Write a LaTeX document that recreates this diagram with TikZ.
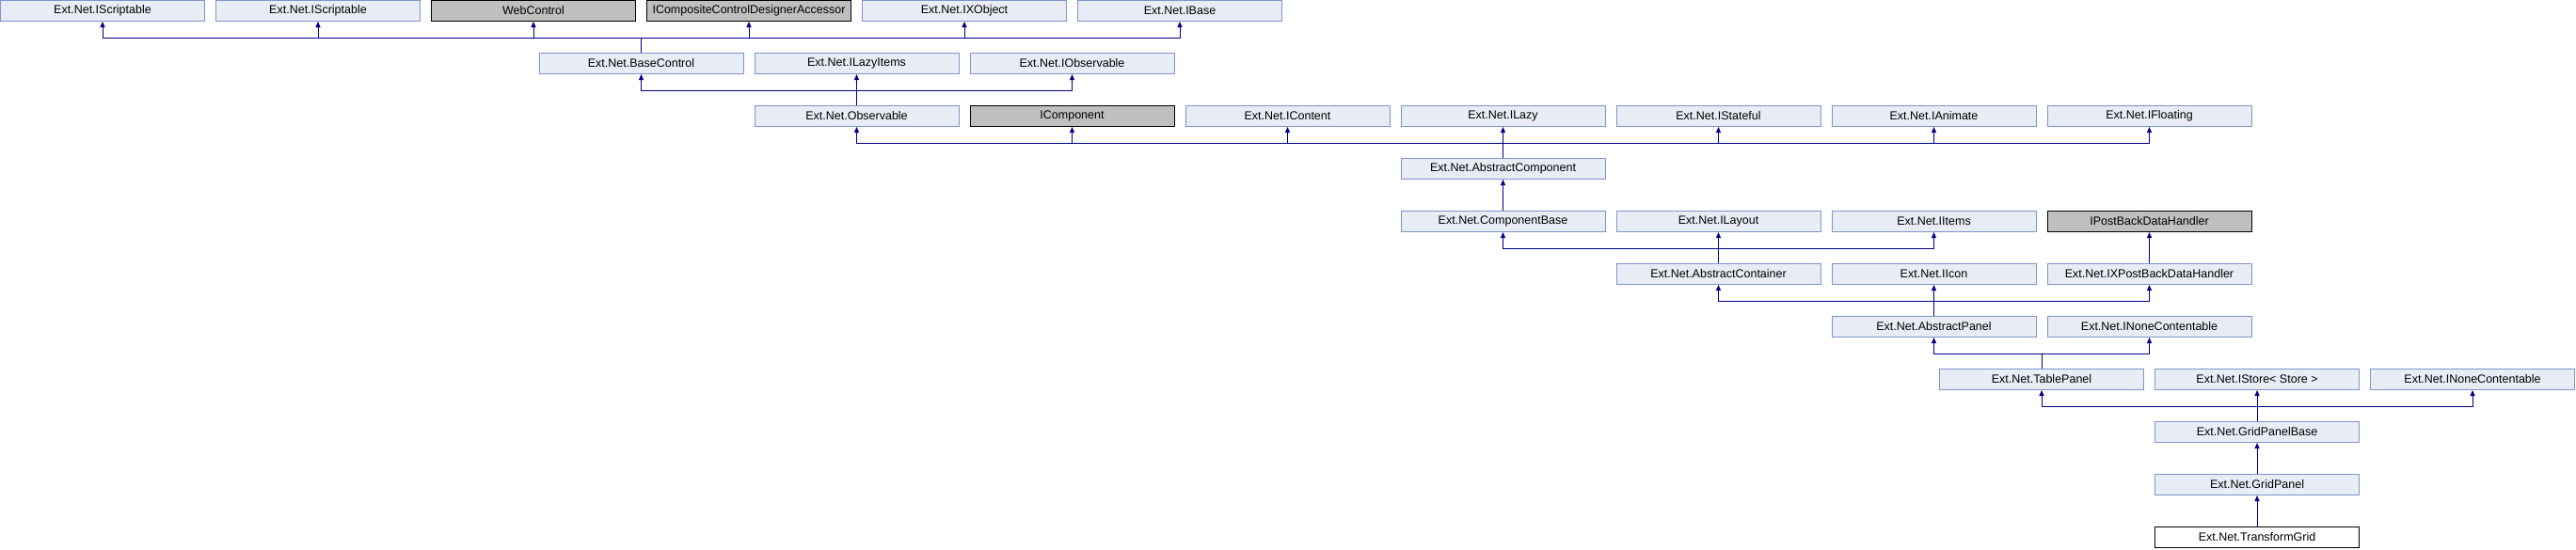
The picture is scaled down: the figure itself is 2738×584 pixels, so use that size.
\documentclass[tikz,border=0pt]{standalone}
\usepackage{fontspec}
\setmainfont{Liberation Sans}
\usetikzlibrary{arrows.meta}
\definecolor{boxfill}{HTML}{E8ECF4}
\definecolor{boxline}{HTML}{7F94CC}
\definecolor{grayfill}{HTML}{BFBFBF}
\definecolor{conncol}{HTML}{000088}
\tikzset{
  cls/.style={draw=boxline, fill=boxfill, line width=1pt, minimum width=217pt, minimum height=22pt, inner sep=0pt, font=\fontsize{12.5}{14}\selectfont},
  ext/.style={cls, draw=black, fill=grayfill},
  cur/.style={cls, draw=black, fill=white},
  conn/.style={draw=conncol, line width=1pt},
  inh/.style={conn, -{Triangle[length=6pt,width=5pt]}},
}
\newcommand{\cbox}[5]{\node[#1] (#2) at ({229*#3+109}, {56*#4+11.5}) {#5};}
\begin{document}
\begin{tikzpicture}[x=1pt, y=-1pt]
\useasboundingbox (0,0) rectangle (2738,584);
% row 0
\cbox{cls}{S1}{0}{0}{Ext.Net.IScriptable}
\cbox{cls}{S2}{1}{0}{Ext.Net.IScriptable}
\cbox{ext}{WC}{2}{0}{WebControl}
\cbox{ext}{ICC}{3}{0}{ICompositeControlDesignerAccessor}
\cbox{cls}{IXO}{4}{0}{Ext.Net.IXObject}
\cbox{cls}{IB}{5}{0}{Ext.Net.IBase}
% row 1
\cbox{cls}{BC}{2.5}{1}{Ext.Net.BaseControl}
\cbox{cls}{ILI}{3.5}{1}{Ext.Net.ILazyItems}
\cbox{cls}{IOb}{4.5}{1}{Ext.Net.IObservable}
% row 2
\cbox{cls}{Obs}{3.5}{2}{Ext.Net.Observable}
\cbox{ext}{IComp}{4.5}{2}{IComponent}
\cbox{cls}{ICont}{5.5}{2}{Ext.Net.IContent}
\cbox{cls}{ILazy}{6.5}{2}{Ext.Net.ILazy}
\cbox{cls}{IStat}{7.5}{2}{Ext.Net.IStateful}
\cbox{cls}{IAnim}{8.5}{2}{Ext.Net.IAnimate}
\cbox{cls}{IFloat}{9.5}{2}{Ext.Net.IFloating}
% row 3
\cbox{cls}{AC}{6.5}{3}{Ext.Net.AbstractComponent}
% row 4
\cbox{cls}{CB}{6.5}{4}{Ext.Net.ComponentBase}
\cbox{cls}{ILay}{7.5}{4}{Ext.Net.ILayout}
\cbox{cls}{IIt}{8.5}{4}{Ext.Net.IItems}
\cbox{ext}{IPB}{9.5}{4}{IPostBackDataHandler}
% row 5
\cbox{cls}{ACon}{7.5}{5}{Ext.Net.AbstractContainer}
\cbox{cls}{IIc}{8.5}{5}{Ext.Net.IIcon}
\cbox{cls}{IXPB}{9.5}{5}{Ext.Net.IXPostBackDataHandler}
% row 6
\cbox{cls}{AP}{8.5}{6}{Ext.Net.AbstractPanel}
\cbox{cls}{INC1}{9.5}{6}{Ext.Net.INoneContentable}
% row 7
\cbox{cls}{TP}{9}{7}{Ext.Net.TablePanel}
\cbox{cls}{IS}{10}{7}{Ext.Net.IStore< Store >}
\cbox{cls}{INC2}{11}{7}{Ext.Net.INoneContentable}
% rows 8-10
\cbox{cls}{GPB}{10}{8}{Ext.Net.GridPanelBase}
\cbox{cls}{GP}{10}{9}{Ext.Net.GridPanel}
\cbox{cur}{TG}{10}{10}{Ext.Net.TransformGrid}

% BaseControl -> row 0
\coordinate (bBC) at ([yshift=16pt]BC.north);
\draw[conn] (BC.north) -- (bBC);
\foreach \p in {S1,S2,WC,ICC,IXO,IB} \draw[inh] (bBC) -| (\p.south);
% Observable
\coordinate (bObs) at ([yshift=16pt]Obs.north);
\draw[conn] (Obs.north) -- (bObs);
\foreach \p in {BC,ILI,IOb} \draw[inh] (bObs) -| (\p.south);
% AbstractComponent
\coordinate (bAC) at ([yshift=16pt]AC.north);
\draw[conn] (AC.north) -- (bAC);
\foreach \p in {Obs,IComp,ICont,ILazy,IStat,IAnim,IFloat} \draw[inh] (bAC) -| (\p.south);
% ComponentBase
\draw[inh] (CB.north) -- (AC.south);
% AbstractContainer
\coordinate (bACon) at ([yshift=16pt]ACon.north);
\draw[conn] (ACon.north) -- (bACon);
\foreach \p in {CB,ILay,IIt} \draw[inh] (bACon) -| (\p.south);
% IXPostBackDataHandler
\draw[inh] (IXPB.north) -- (IPB.south);
% AbstractPanel
\coordinate (bAP) at ([yshift=16pt]AP.north);
\draw[conn] (AP.north) -- (bAP);
\foreach \p in {ACon,IIc,IXPB} \draw[inh] (bAP) -| (\p.south);
% TablePanel
\coordinate (bTP) at ([yshift=16pt]TP.north);
\draw[conn] (TP.north) -- (bTP);
\foreach \p in {AP,INC1} \draw[inh] (bTP) -| (\p.south);
% GridPanelBase
\coordinate (bGPB) at ([yshift=16pt]GPB.north);
\draw[conn] (GPB.north) -- (bGPB);
\foreach \p in {TP,IS,INC2} \draw[inh] (bGPB) -| (\p.south);
% GridPanel, TransformGrid
\draw[inh] (GP.north) -- (GPB.south);
\draw[inh] (TG.north) -- (GP.south);
\end{tikzpicture}
\end{document}
